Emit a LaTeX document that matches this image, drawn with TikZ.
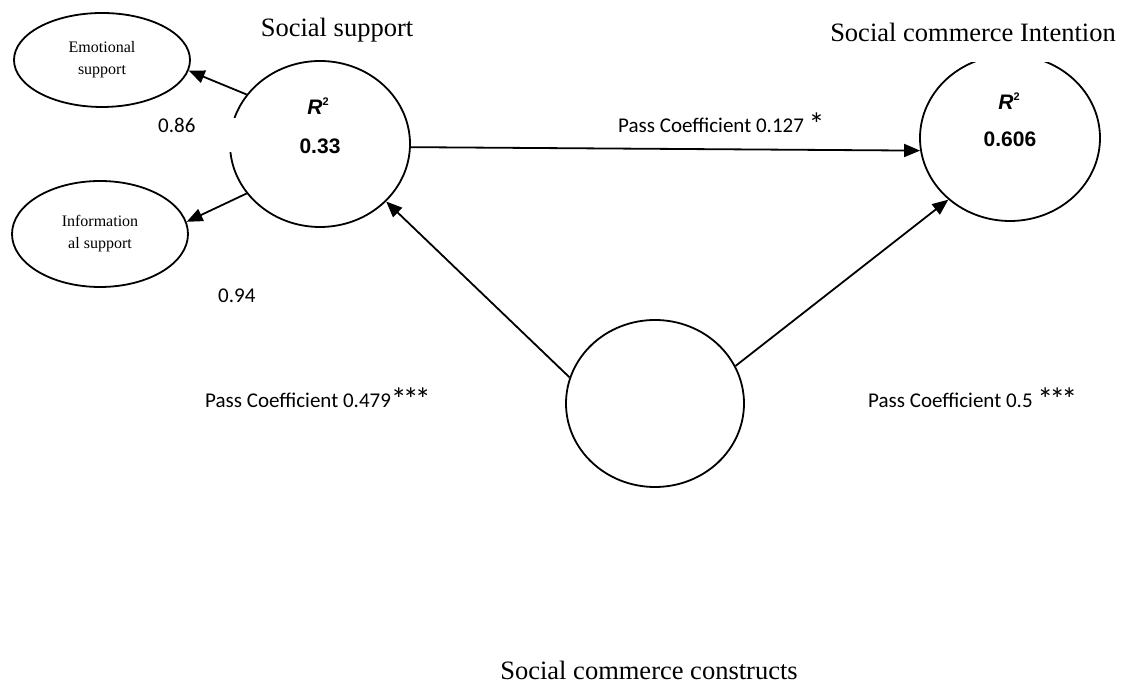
\documentclass[tikz,border=0pt]{standalone}
\usepackage{fontspec}
\setmainfont{Liberation Serif}
\newfontfamily\calfont{Carlito}
\newfontfamily\arialfont{Liberation Sans}
\usetikzlibrary{shapes.geometric,arrows.meta}
\tikzset{
  construct/.style={draw=black, line width=1.8pt, ellipse, inner sep=0pt},
  dimbox/.style={draw=black, line width=1.8pt, ellipse, inner sep=0pt, align=center,
    font=\fontsize{16}{22}\selectfont},
  title/.style={font=\fontsize{26.5}{30}\selectfont, anchor=base, inner sep=0pt},
  coef/.style={font=\calfont\fontsize{21}{24}\selectfont, anchor=base west, inner sep=0pt},
  rval/.style={font=\arialfont\bfseries\fontsize{21}{24}\selectfont, anchor=base, inner sep=0pt},
  path/.style={line width=1.8pt, -{Triangle[length=16pt,width=13pt]}},
}
\newcommand{\sigstar}{\raisebox{-3pt}{\fontsize{32}{32}\selectfont *}}
\newcommand{\rsq}{\textit{R}\raisebox{9pt}{\fontsize{11}{11}\selectfont 2}}
\begin{document}
\begin{tikzpicture}[x=1pt,y=1pt]
\useasboundingbox (0,0) rectangle (1125,684);
% constructs
\node[dimbox, minimum width=176pt, minimum height=94pt] (em) at (102,624) {Emotional\\support};
\node[dimbox, minimum width=176pt, minimum height=106pt] (inf) at (100,450) {Information\\al support};
\node[construct, minimum width=180pt, minimum height=166pt] (ss) at (320,540) {};
\node[construct, minimum width=180pt, minimum height=166pt] (sci) at (1010,546) {};
\node[construct, minimum width=178pt, minimum height=167pt] (bot) at (655,280.5) {};
% titles
\node[title] (tss) at (337,647) {Social support};
\node[title, fill=white, text depth=20pt] (tsci) at (973,642) {Social commerce Intention};
\node[title] (tbot) at (649,4) {Social commerce constructs};
% R squared
\node[rval] (r1) at (318,569) {\rsq};
\node[rval] (v1) at (320,530) {0.33};
\node[rval] (r2) at (1009,574) {\rsq};
\node[rval] (v2) at (1010,537) {0.606};
% paths
\draw[path] (ss.146) -- (em.-7);
\draw[path] (ss.214.7) -- (inf.8);
\draw[path] (ss.-2.5) -- (sci.188.8);
\draw[path] (bot.163.5) -- (ss.-41.4);
\draw[path] (bot.25.7) -- (sci.225.9);
% labels
\node[coef, fill=white, text width=78pt, text height=15pt, text depth=19pt] (l86) at (158,551) {0.86};
\node[coef] (l94) at (218,381) {0.94};
\node[coef] (l127) at (618,551) {Pass Coefficient 0.127 \sigstar};
\node[coef] (l479) at (205,276) {Pass Coefficient 0.479\sigstar\kern-4pt\sigstar\kern-4pt\sigstar};
\node[coef] (l05) at (868,276) {Pass Coefficient 0.5 \sigstar\kern-4pt\sigstar\kern-4pt\sigstar};
\end{tikzpicture}
\end{document}
